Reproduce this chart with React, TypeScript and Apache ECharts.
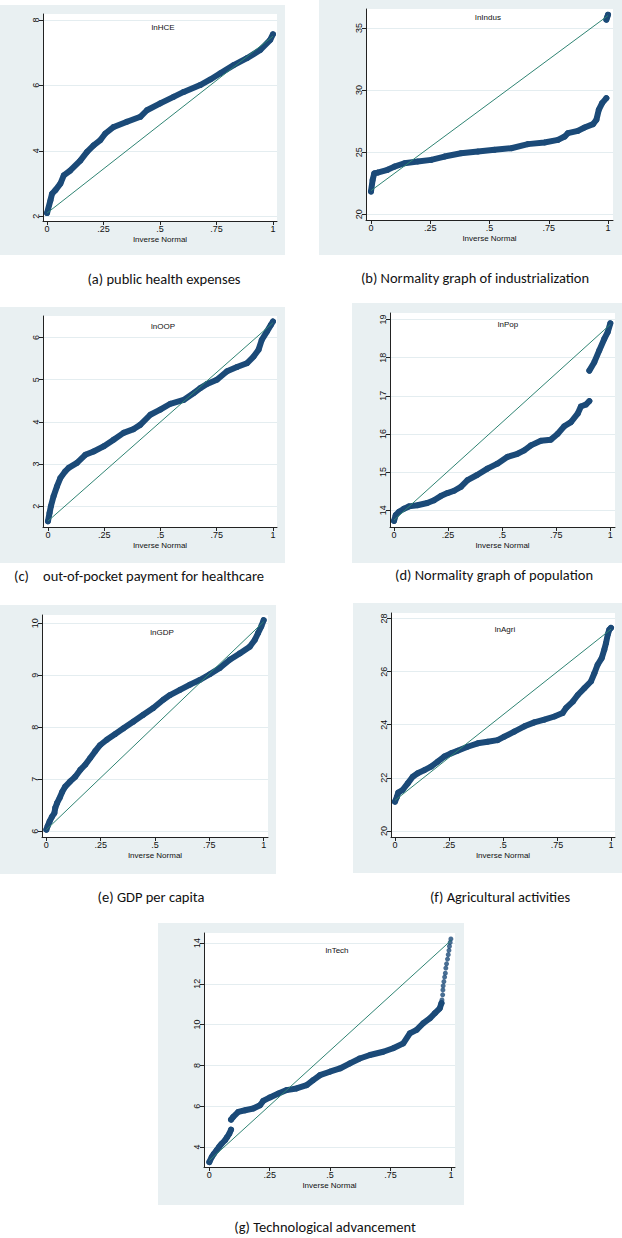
import React, { useEffect, useRef } from "react";
import * as echarts from "echarts";

// ---------- data ----------
const xTicks = [0, 0.25, 0.5, 0.75, 1];
const xTitle = "Inverse Normal";

const hceTicks = [2, 4, 6, 8];
const hcePts = [[0, 2.1], [0.015, 2.49], [0.022, 2.69], [0.037, 2.8], [0.059, 3.0], [0.074, 3.25], [0.103, 3.4], [0.147, 3.7], [0.177, 3.97], [0.206, 4.17], [0.236, 4.33], [0.258, 4.53], [0.295, 4.73], [0.354, 4.89], [0.413, 5.04], [0.442, 5.24], [0.501, 5.45], [0.56, 5.65], [0.605, 5.8], [0.678, 6.01], [0.723, 6.18], [0.767, 6.37], [0.826, 6.62], [0.885, 6.83], [0.944, 7.08], [0.988, 7.39], [1, 7.56]];
const hceRef = [[0, 2.1], [1, 7.5]];

const indusTicks = [20, 25, 30, 35];
const indusPts = [[0, 21.83], [0.007, 22.77], [0.014, 23.3], [0.028, 23.36], [0.07, 23.58], [0.099, 23.84], [0.141, 24.11], [0.197, 24.25], [0.254, 24.38], [0.31, 24.65], [0.38, 24.92], [0.451, 25.05], [0.521, 25.19], [0.592, 25.32], [0.662, 25.65], [0.732, 25.78], [0.789, 25.99], [0.817, 26.26], [0.831, 26.53], [0.873, 26.72], [0.901, 26.99], [0.937, 27.26], [0.951, 27.61], [0.961, 28.41], [0.975, 28.95], [0.993, 29.35]];
const indusTop = [[0.993, 35.67], [0.996, 35.85], [1, 36.07]];
const indusRef = [[0, 21.9], [1, 36.0]];

const oopTicks = [2, 3, 4, 5, 6];
const oopPts = [[0, 1.645], [0.007, 1.84], [0.013, 2.0], [0.025, 2.24], [0.04, 2.47], [0.055, 2.67], [0.077, 2.83], [0.092, 2.91], [0.129, 3.03], [0.166, 3.22], [0.203, 3.3], [0.247, 3.42], [0.292, 3.58], [0.336, 3.74], [0.381, 3.83], [0.41, 3.93], [0.455, 4.17], [0.499, 4.29], [0.544, 4.43], [0.603, 4.52], [0.647, 4.68], [0.677, 4.8], [0.707, 4.9], [0.751, 5.0], [0.796, 5.2], [0.84, 5.3], [0.884, 5.39], [0.914, 5.55], [0.936, 5.71], [0.95, 5.94], [0.973, 6.14], [0.991, 6.3], [1, 6.38]];
const oopRef = [[0, 1.65], [1, 6.35]];

const popTicks = [14, 15, 16, 17, 18, 19];
const popLow = [[0, 13.72], [0.008, 13.87], [0.023, 13.96], [0.046, 14.04], [0.069, 14.1], [0.108, 14.13], [0.154, 14.19], [0.185, 14.26], [0.216, 14.37], [0.247, 14.45], [0.278, 14.51], [0.309, 14.61], [0.34, 14.79], [0.386, 14.93], [0.432, 15.09], [0.478, 15.22], [0.525, 15.4], [0.571, 15.48], [0.602, 15.57], [0.633, 15.7], [0.679, 15.82], [0.725, 15.85], [0.756, 16.0], [0.787, 16.2], [0.818, 16.31], [0.849, 16.53], [0.864, 16.72], [0.887, 16.77], [0.903, 16.86]];
const popHigh = [[0.903, 17.66], [0.926, 17.88], [0.949, 18.19], [0.972, 18.49], [0.988, 18.67], [1, 18.9]];
const popRef = [[0, 13.74], [1, 18.87]];

const gdpTicks = [6, 7, 8, 9, 10];
const gdpPts = [[0, 6.03], [0.006, 6.1], [0.015, 6.19], [0.026, 6.28], [0.037, 6.35], [0.041, 6.45], [0.049, 6.54], [0.061, 6.64], [0.072, 6.75], [0.087, 6.86], [0.11, 6.96], [0.133, 7.05], [0.156, 7.18], [0.179, 7.28], [0.202, 7.41], [0.225, 7.54], [0.248, 7.66], [0.278, 7.76], [0.317, 7.87], [0.355, 7.98], [0.401, 8.11], [0.446, 8.24], [0.492, 8.37], [0.538, 8.53], [0.569, 8.62], [0.615, 8.72], [0.661, 8.82], [0.706, 8.91], [0.752, 9.02], [0.798, 9.14], [0.844, 9.3], [0.89, 9.42], [0.936, 9.55], [0.959, 9.68], [0.974, 9.81], [0.989, 9.94], [1, 10.06]];
const gdpRef = [[0, 6.03], [1, 10.03]];

const agriTicks = [20, 22, 24, 26, 28];
const agriPts = [[0, 21.1], [0.009, 21.28], [0.015, 21.44], [0.035, 21.54], [0.059, 21.79], [0.082, 22.04], [0.105, 22.17], [0.136, 22.29], [0.167, 22.42], [0.198, 22.61], [0.228, 22.8], [0.259, 22.92], [0.29, 23.02], [0.336, 23.17], [0.383, 23.3], [0.429, 23.36], [0.475, 23.42], [0.506, 23.55], [0.552, 23.74], [0.599, 23.94], [0.645, 24.09], [0.691, 24.19], [0.738, 24.31], [0.776, 24.44], [0.792, 24.63], [0.823, 24.87], [0.846, 25.12], [0.877, 25.38], [0.907, 25.63], [0.923, 25.94], [0.938, 26.26], [0.957, 26.51], [0.969, 26.83], [0.977, 27.08], [0.985, 27.4], [0.992, 27.58], [1, 27.65]];
const agriRef = [[0, 21.15], [1, 27.6]];

const techTicks = [4, 6, 8, 10, 12, 14];
const techLow = [[0, 3.26], [0.01, 3.51], [0.019, 3.67], [0.03, 3.84], [0.04, 4.0], [0.051, 4.16], [0.065, 4.33], [0.074, 4.49], [0.083, 4.66], [0.09, 4.85]];
const techMid = [[0.09, 5.34], [0.099, 5.48], [0.12, 5.72], [0.148, 5.8], [0.182, 5.89], [0.21, 6.05], [0.223, 6.26], [0.251, 6.43], [0.286, 6.62], [0.32, 6.79], [0.361, 6.87], [0.403, 7.03], [0.43, 7.28], [0.458, 7.52], [0.499, 7.69], [0.541, 7.85], [0.582, 8.1], [0.623, 8.34], [0.665, 8.51], [0.72, 8.67], [0.761, 8.84], [0.803, 9.08], [0.83, 9.57], [0.858, 9.74], [0.886, 10.07], [0.913, 10.31], [0.934, 10.56], [0.954, 10.8], [0.961, 11.05]];
const techTail = [[0.963, 11.21], [0.966, 11.46], [0.967, 11.7], [0.968, 11.9], [0.971, 12.11], [0.974, 12.33], [0.977, 12.52], [0.979, 12.77], [0.982, 12.98], [0.986, 13.21], [0.989, 13.43], [0.992, 13.64], [0.994, 13.84], [0.997, 14.03], [1, 14.2]];
const techRef = [[0, 3.34], [1, 14.12]];

// ---------- layout / style ----------
const NAVY = "#1b4a78";
const TEAL = "#2f8473";
const BG = "#e9f0f2";
const GRIDC = "#e4edf0";
const SANS = "'Liberation Sans', Arial, sans-serif";
const CAPFONT = "Carlito, Calibri, Lato, 'Open Sans', sans-serif";

const panels = [
  { title: "lnHCE", bands: [hcePts], tail: null, ref: hceRef, yTicks: hceTicks, box: [0, 5, 285, 250], grid: [43, 14, 234, 207], x: [-0.018, 1.018], y: [1.857, 8.18], t: [163, 27] },
  { title: "lnIndus", bands: [indusPts, indusTop], tail: null, ref: indusRef, yTicks: indusTicks, box: [319, 0, 303, 255], grid: [366, 9, 247, 211], x: [-0.021, 1.021], y: [19.54, 36.53], t: [488, 17] },
  { title: "lnOOP", bands: [oopPts], tail: null, ref: oopRef, yTicks: oopTicks, box: [0, 307, 285, 256], grid: [43, 316, 234, 211], x: [-0.022, 1.018], y: [1.51, 6.51], t: [163, 326] },
  { title: "lnPop", bands: [popLow, popHigh], tail: null, ref: popRef, yTicks: popTicks, box: [352, 303, 270, 260], grid: [390, 313, 225, 214], x: [-0.0185, 1.0216], y: [13.56, 19.17], t: [508, 324] },
  { title: "lnGDP", bands: [gdpPts], tail: null, ref: gdpRef, yTicks: gdpTicks, box: [0, 605, 276, 269], grid: [42, 615, 226, 222], x: [-0.02, 1.02], y: [5.89, 10.16], t: [162, 632] },
  { title: "lnAgri", bands: [agriPts], tail: null, ref: agriRef, yTicks: agriTicks, box: [353, 603, 269, 270], grid: [391, 613, 224, 224], x: [-0.0185, 1.0185], y: [19.77, 28.21], t: [505, 629] },
  { title: "lnTech", bands: [techLow, techMid], tail: techTail, ref: techRef, yTicks: techTicks, box: [158, 923, 306, 282], grid: [204, 933, 251, 234], x: [-0.022, 1.017], y: [3.02, 14.49], t: [337, 950] },
];

const captions = [
  { text: "(a) public health expenses", x: 164, y: 279 },
  { text: "(b) Normality graph of industrialization", x: 475, y: 278 },
  { text: "(d) Normality graph of population", x: 494, y: 575 },
  { text: "(e) GDP per capita", x: 151, y: 897 },
  { text: "(f) Agricultural activities", x: 500, y: 897 },
  { text: "(g) Technological advancement", x: 325, y: 1227 },
];

const fmtX = (v: number) => (v === 0 ? "0" : v === 1 ? "1" : String(v).replace(/^0/, ""));

function buildOption() {
  const grid: any[] = [];
  const xAxis: any[] = [];
  const yAxis: any[] = [];
  const series: any[] = [];
  const elements: any[] = [];

  panels.forEach((p, i) => {
    elements.push({
      type: "rect", z: -100, silent: true,
      shape: { x: p.box[0], y: p.box[1], width: p.box[2], height: p.box[3] },
      style: { fill: BG },
    });
    elements.push({
      type: "text", z: 50, silent: true, x: p.t[0], y: p.t[1],
      style: { text: p.title, font: `8px ${SANS}`, fill: "#111111", align: "center", verticalAlign: "middle" },
    });
    elements.push({
      type: "text", z: 50, silent: true,
      x: p.grid[0] + p.grid[2] / 2, y: p.grid[1] + p.grid[3] + 18,
      style: { text: xTitle, font: `8px ${SANS}`, fill: "#111111", align: "center", verticalAlign: "middle" },
    });
    grid.push({
      left: p.grid[0], top: p.grid[1], width: p.grid[2], height: p.grid[3],
      show: true, backgroundColor: "#ffffff", borderWidth: 0,
    });
    xAxis.push({
      type: "value", gridIndex: i, min: p.x[0], max: p.x[1],
      axisLine: { show: true, onZero: false, lineStyle: { color: "#222", width: 1 } },
      axisTick: { show: true, length: 4, customValues: xTicks, lineStyle: { color: "#222" } },
      axisLabel: { customValues: xTicks, formatter: fmtX, fontSize: 9, fontFamily: SANS, color: "#111", margin: 3 },
      splitLine: { show: false },
    });
    yAxis.push({
      type: "value", gridIndex: i, min: p.y[0], max: p.y[1],
      axisLine: { show: true, onZero: false, lineStyle: { color: "#222", width: 1 } },
      axisTick: { show: true, length: 4, customValues: p.yTicks, lineStyle: { color: "#222" } },
      axisLabel: { customValues: p.yTicks, rotate: 90, fontSize: 9, fontFamily: SANS, color: "#111", margin: 3 },
      splitLine: { show: true, lineStyle: { color: GRIDC, width: 1 } },
    });
    p.bands.forEach((b) => {
      series.push({
        type: "line", xAxisIndex: i, yAxisIndex: i, data: b,
        showSymbol: true, symbol: "circle", symbolSize: 6,
        itemStyle: { color: NAVY }, lineStyle: { color: NAVY, width: 6, cap: "round", join: "round" },
        z: 3, silent: true,
      });
    });
    if (p.tail) {
      series.push({
        type: "scatter", xAxisIndex: i, yAxisIndex: i, data: p.tail,
        symbol: "circle", symbolSize: 5, itemStyle: { color: NAVY }, z: 3, silent: true,
      });
    }
    series.push({
      type: "line", xAxisIndex: i, yAxisIndex: i, data: p.ref,
      showSymbol: false, symbol: "none", lineStyle: { color: TEAL, width: 1 }, z: 5, silent: true,
    });
  });

  const capFont = `14.5px ${CAPFONT}`;
  captions.forEach((c) => {
    elements.push({
      type: "text", silent: true, x: c.x, y: c.y,
      style: { text: c.text, font: capFont, fill: "#111", align: "center", verticalAlign: "middle" },
    });
  });
  elements.push({
    type: "text", silent: true, x: 14, y: 576,
    style: { text: "(c)", font: capFont, fill: "#111", align: "left", verticalAlign: "middle" },
  });
  elements.push({
    type: "text", silent: true, x: 43, y: 576,
    style: { text: "out-of-pocket payment for healthcare", font: capFont, fill: "#111", align: "left", verticalAlign: "middle" },
  });

  return {
    animation: false,
    backgroundColor: "#ffffff",
    grid, xAxis, yAxis, series,
    graphic: { elements },
  };
}

export default function App() {
  const ref = useRef<HTMLDivElement>(null);
  useEffect(() => {
    if (!ref.current) return;
    const chart = echarts.init(ref.current, null, { renderer: "svg" });
    chart.setOption(buildOption() as any);
    return () => chart.dispose();
  }, []);
  return (
    <div
      ref={ref}
      style={{ position: "absolute", left: 0, top: 0, width: 622, height: 1238 }}
    />
  );
}
